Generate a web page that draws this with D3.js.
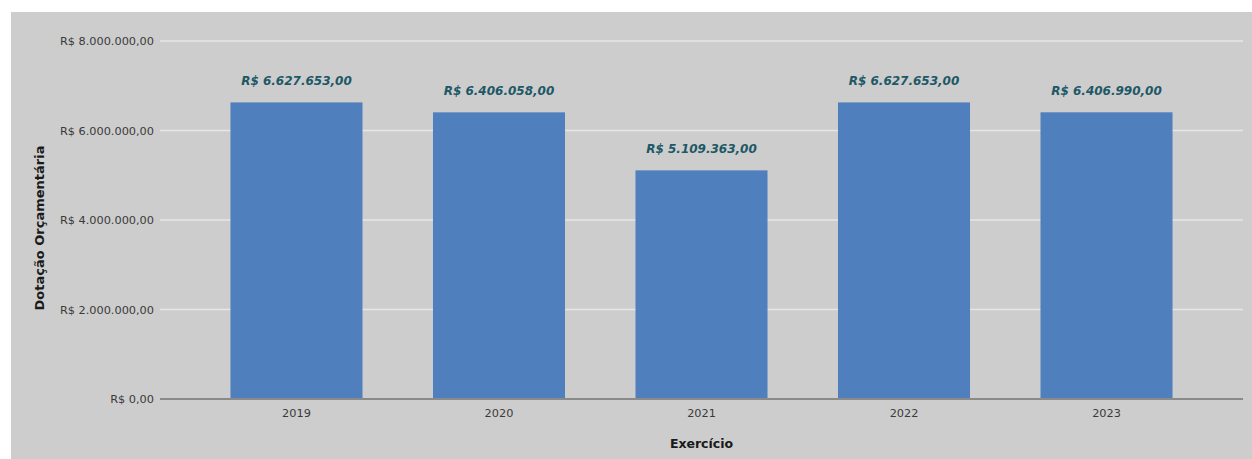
<!DOCTYPE html>
<html>
<head>
<meta charset="utf-8">
<script src="https://cdn.jsdelivr.net/npm/d3@7"></script>
<style>
  html, body { margin: 0; padding: 0; background: #ffffff; }
  svg { display: block; }
</style>
</head>
<body>
<svg id="chart" width="1252" height="459"></svg>
<script>
const categories = ["2019", "2020", "2021", "2022", "2023"];
const values = [6627653, 6406058, 5109363, 6627653, 6406990];
const yTicks = [0, 2000000, 4000000, 6000000, 8000000];
const yTitle = "Dotação Orçamentária";
const xTitle = "Exercício";

const fmt = v => "R$ " + d3.format(",.2f")(v).replace(/,/g, "#").replace(/\./g, ",").replace(/#/g, ".");

const svg = d3.select("#chart");
const W = 1252, H = 459;

svg.append("rect").attr("x", 11).attr("y", 12).attr("width", W - 11).attr("height", H - 12).attr("fill", "#cdcdcd");

const x0 = 160, x1 = 1243, yTop = 41, yBot = 399;
const x = d3.scaleBand().domain(categories).range([x0, x1]).padding(0.348);
const y = d3.scaleLinear().domain([0, 8000000]).range([yBot, yTop]);

// gridlines
svg.append("g").selectAll("line").data(yTicks.filter(t => t > 0)).join("line")
  .attr("x1", x0).attr("x2", x1)
  .attr("y1", d => y(d)).attr("y2", d => y(d))
  .attr("stroke", "#e6e6e6").attr("stroke-width", 1.5);

// y axis labels
const yAxis = d3.axisLeft(y).tickValues(yTicks).tickSize(0).tickPadding(6).tickFormat(fmt);
const gy = svg.append("g").attr("transform", `translate(${x0},0)`).call(yAxis);
gy.select(".domain").remove();
gy.selectAll("text").attr("font-family", "DejaVu Sans, sans-serif").attr("font-size", 11.3).attr("fill", "#3a3a3a");

// bars
svg.append("g").selectAll("rect").data(values).join("rect")
  .attr("x", (d, i) => x(categories[i]))
  .attr("y", d => y(d))
  .attr("width", x.bandwidth())
  .attr("height", d => yBot - y(d))
  .attr("fill", "#4f80bd");

// value labels
svg.append("g").selectAll("text").data(values).join("text")
  .attr("x", (d, i) => x(categories[i]) + x.bandwidth() / 2)
  .attr("y", d => y(d) - 17)
  .attr("text-anchor", "middle")
  .attr("font-family", "DejaVu Sans, sans-serif")
  .attr("font-size", 12).attr("font-weight", "bold").attr("font-style", "italic")
  .attr("fill", "#1d5866")
  .text(d => fmt(d));

// x axis
const xAxis = d3.axisBottom(x).tickSize(0).tickPadding(10);
const gx = svg.append("g").attr("transform", `translate(0,${yBot})`).call(xAxis);
gx.select(".domain").remove();
gx.selectAll("text").attr("font-family", "DejaVu Sans, sans-serif").attr("font-size", 11.3).attr("fill", "#3a3a3a");
svg.append("line").attr("x1", x0).attr("x2", x1).attr("y1", yBot).attr("y2", yBot)
  .attr("stroke", "#8a8a8a").attr("stroke-width", 2);

// axis titles
svg.append("text").attr("x", (x0 + x1) / 2).attr("y", 448).attr("text-anchor", "middle")
  .attr("font-family", "DejaVu Sans, sans-serif").attr("font-size", 12.5).attr("font-weight", "bold").attr("fill", "#1a1a1a")
  .text(xTitle);
svg.append("text").attr("transform", "translate(43.5,228) rotate(-90)").attr("text-anchor", "middle")
  .attr("font-family", "DejaVu Sans, sans-serif").attr("font-size", 13).attr("font-weight", "bold").attr("fill", "#1a1a1a")
  .text(yTitle);
</script>
</body>
</html>
